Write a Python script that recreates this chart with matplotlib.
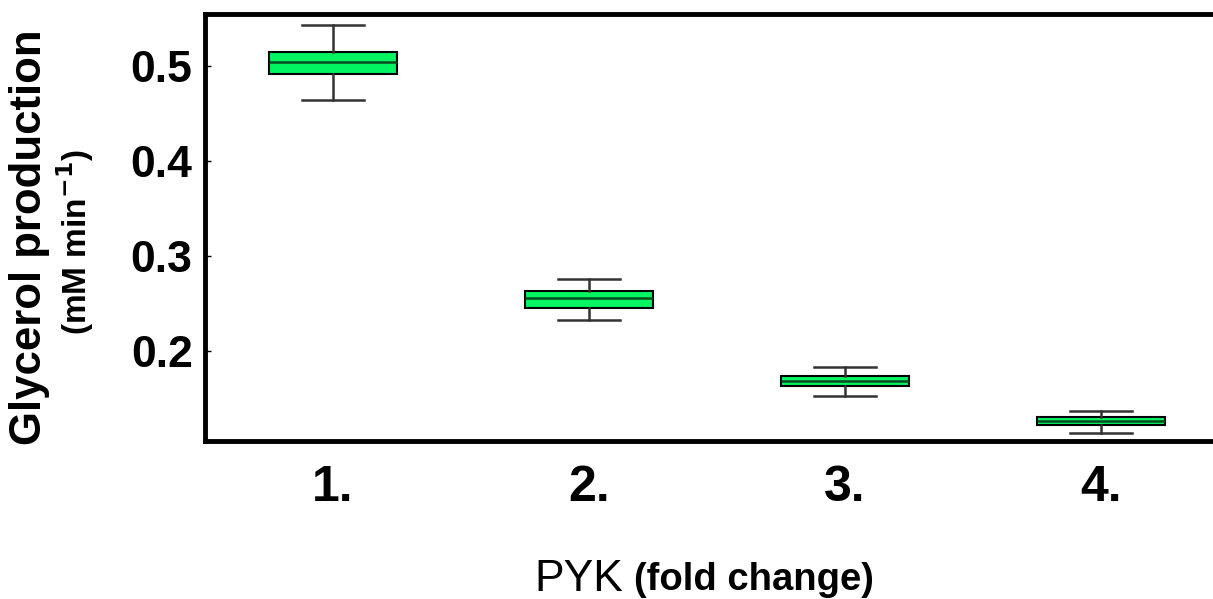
import matplotlib
matplotlib.use("Agg")
import matplotlib.pyplot as plt

plt.rcParams['font.family'] = ['Liberation Sans', 'DejaVu Sans']

# values
positions = [1, 2, 3, 4]
tick_labels = ['1.', '2.', '3.', '4.']
medians = [0.504, 0.2558, 0.1687, 0.1263]
q1 = [0.4916, 0.2455, 0.1635, 0.1221]
q3 = [0.5147, 0.2632, 0.1737, 0.1308]
whis_lo = [0.4640, 0.2326, 0.1529, 0.1140]
whis_hi = [0.5430, 0.2758, 0.1835, 0.1372]

stats = []
for m, a, b, lo, hi in zip(medians, q1, q3, whis_lo, whis_hi):
    stats.append({'med': m, 'q1': a, 'q3': b, 'whislo': lo, 'whishi': hi, 'fliers': []})

fig = plt.figure(figsize=(12.13, 5.99), dpi=100)
ax = fig.add_axes([205 / 1213, 1 - 441 / 599, (1229 - 205) / 1213, (441 - 14) / 599])

ax.bxp(stats, positions=positions, widths=0.5, patch_artist=True, showfliers=False,
       boxprops=dict(facecolor='#00f560', edgecolor='black', linewidth=1.5),
       medianprops=dict(color='#0a4a20', linewidth=1.8),
       whiskerprops=dict(color='#333333', linewidth=1.8),
       capprops=dict(color='#333333', linewidth=1.8),
       capwidths=0.24)

ax.set_xlim(0.5, 4.5)
ax.set_ylim(0.1053, 0.5547)
ax.set_yticks([0.2, 0.3, 0.4, 0.5])
ax.set_yticklabels(['0.2', '0.3', '0.4', '0.5'], fontsize=32, fontweight='bold')
ax.set_xticks(positions)
ax.set_xticklabels(tick_labels, fontsize=36, fontweight='bold')
ax.tick_params(axis='x', length=0, pad=17)
ax.tick_params(axis='y', direction='in', length=4, width=1, pad=9)

for side in ['left', 'top', 'bottom']:
    ax.spines[side].set_linewidth(3.5)
ax.spines['right'].set_visible(False)

fig.text(0.024, 0.604, 'Glycerol production', rotation=90, ha='center', va='center',
         fontsize=31.5, fontweight='bold')
fig.text(0.062, 0.596, '(mM min$^{\\mathbf{-1}}$)', rotation=90, ha='center', va='center',
         fontsize=24, fontweight='bold')

fig.text(0.514, 0.032, 'PYK', ha='right', va='center', fontsize=32)
fig.text(0.523, 0.032, '(fold change)', ha='left', va='center', fontsize=27.5, fontweight='bold')

fig.savefig('out.png', dpi=100)
